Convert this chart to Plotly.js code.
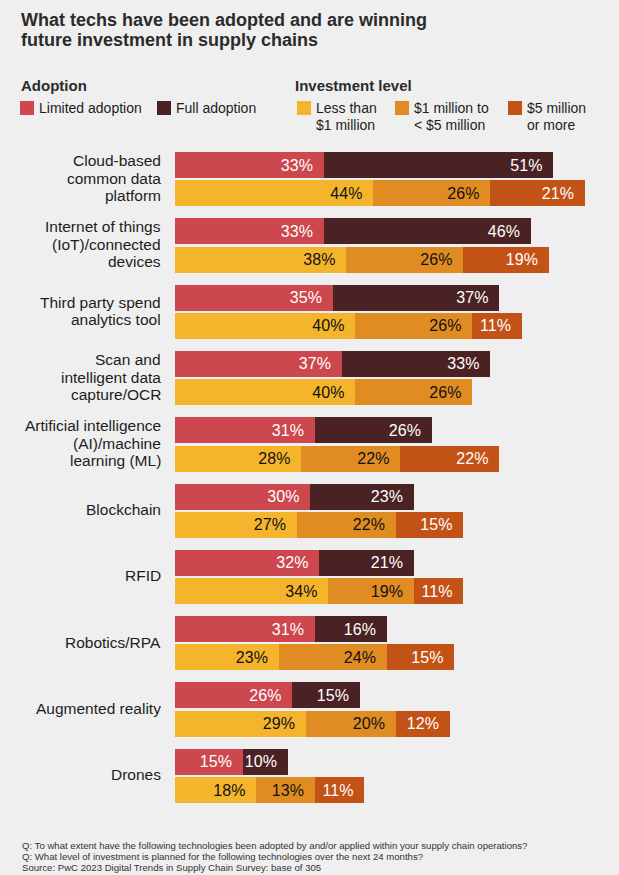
<!DOCTYPE html>
<html>
<head>
<meta charset="utf-8">
<script src="https://cdn.plot.ly/plotly-3.0.1.min.js"></script>
<style>
  html, body { margin: 0; padding: 0; background: #efefef; }
  #chart { width: 619px; height: 875px; }
</style>
</head>
<body>
<div id="chart"></div>
<script>
// values
const categories = [
  "Cloud-based<br>common data<br>platform",
  "Internet of things<br>(IoT)/connected<br>devices",
  "Third party spend<br>analytics tool",
  "Scan and<br>intelligent data<br>capture/OCR",
  "Artificial intelligence<br>(AI)/machine<br>learning (ML)",
  "Blockchain",
  "RFID",
  "Robotics/RPA",
  "Augmented reality",
  "Drones",
];
const limitedAdoption = [33, 33, 35, 37, 31, 30, 32, 31, 26, 15];
const fullAdoption = [51, 46, 37, 33, 26, 23, 21, 16, 15, 10];
const lessThan1m = [44, 38, 40, 40, 28, 27, 34, 23, 29, 18];
const from1mTo5m = [26, 26, 26, 26, 22, 22, 19, 24, 20, 13];
const over5m = [21, 19, 11, null, 22, 15, 11, 15, 12, 11];

const adoptionNames = ["Limited adoption", "Full adoption"];
const investmentNames = ["Less than<br>$1 million", "$1 million to<br>&lt; $5 million", "$5 million<br>or more"];

const titleLines = [
  "What techs have been adopted and are winning",
  "future investment in supply chains",
];
const footerLines = [
  "Q: To what extent have the following technologies been adopted by and/or applied within your supply chain operations?",
  "Q: What level of investment is planned for the following technologies over the next 24 months?",
  "Source: PwC 2023 Digital Trends in Supply Chain Survey: base of 305",
];

const colors = {
  limited: "#cd474e",
  full: "#4a2224",
  less: "#f4b52c",
  mid: "#e08c23",
  more: "#c35217",
};

const FONT = "Liberation Sans, Arial, sans-serif";
const W = 619, H = 875;
const M = { l: 175, r: 19, t: 152, b: 72 };
const plotW = W - M.l - M.r;
const plotH = H - M.t - M.b;
const PX_PER_PCT = 4.5;

// y axis is in pixels from the top of the plot area
const GROUP_STEP = 66.3;
const BAR_H = 26;
const adoptionY = categories.map((_, i) => BAR_H / 2 + i * GROUP_STEP);
const investY = categories.map((_, i) => BAR_H / 2 + 28.3 + i * GROUP_STEP);
const groupMid = categories.map((_, i) => (adoptionY[i] + investY[i]) / 2);

const pad = "\u00a0\u2009";

function barTrace(name, x, y, color, textColor) {
  return {
    type: "bar",
    orientation: "h",
    name: name,
    x: x,
    y: y,
    width: BAR_H,
    marker: { color: color, line: { width: 0 } },
    texttemplate: "%{x}%" + pad,
    textposition: "inside",
    insidetextanchor: "end",
    textangle: 0,
    constraintext: "none",
    textfont: { family: FONT, size: 16, color: textColor },
    hoverinfo: "skip",
    showlegend: false,
  };
}

const traces = [
  barTrace("Limited adoption", limitedAdoption, adoptionY, colors.limited, "#ffffff"),
  barTrace("Full adoption", fullAdoption, adoptionY, colors.full, "#ffffff"),
  barTrace("Less than $1 million", lessThan1m, investY, colors.less, "#111111"),
  barTrace("$1 million to < $5 million", from1mTo5m, investY, colors.mid, "#111111"),
  barTrace("$5 million or more", over5m, investY, colors.more, "#ffffff"),
];

// pixel -> paper helpers for the text around the plot
const px = x => (x - M.l) / plotW;
const py = y => 1 - (y - M.t) / plotH;

function textAt(text, x, yCenter, size, opts = {}) {
  return Object.assign({
    text: text,
    xref: "paper",
    yref: "paper",
    x: px(x),
    y: py(yCenter),
    xanchor: "left",
    yanchor: "middle",
    showarrow: false,
    borderpad: 0,
    font: { family: FONT, size: size, color: "#1d1d1d" },
  }, opts);
}

const annotations = [];
const shapes = [];

// title
titleLines.forEach((line, j) => {
  annotations.push(textAt("<b>" + line + "</b>", 20, 19.5 + j * 20, 18, {
    font: { family: FONT, size: 18, color: "#2b2b2b" },
  }));
});

// legend headers
annotations.push(textAt("<b>Adoption</b>", 20, 85.5, 15, { font: { family: FONT, size: 15, color: "#2b2b2b" } }));
annotations.push(textAt("<b>Investment level</b>", 294, 85.5, 15, { font: { family: FONT, size: 15, color: "#2b2b2b" } }));

function legendItem(name, color, x0) {
  shapes.push({
    type: "rect", xref: "paper", yref: "paper",
    x0: px(x0), x1: px(x0 + 14), y0: py(115), y1: py(101),
    fillcolor: color, line: { width: 0 },
  });
  name.split("<br>").forEach((line, j) => {
    annotations.push(textAt(line, x0 + 18, 108.5 + j * 16.3, 14));
  });
}
const adoptionColors = [colors.limited, colors.full];
const investColors = [colors.less, colors.mid, colors.more];
const adoptionSwatchX = [20, 157];
const investSwatchX = [297, 395, 508];
adoptionNames.forEach((n, k) => legendItem(n, adoptionColors[k], adoptionSwatchX[k]));
investmentNames.forEach((n, k) => legendItem(n, investColors[k], investSwatchX[k]));

// category labels, one annotation per line for tight line spacing
const LABEL_LINE = 17.5;
categories.forEach((cat, i) => {
  const lines = cat.split("<br>");
  lines.forEach((line, j) => {
    annotations.push({
      text: line,
      xref: "paper",
      yref: "y",
      x: px(162),
      y: groupMid[i],
      yshift: -(j - (lines.length - 1) / 2) * LABEL_LINE + 1,
      xanchor: "right",
      yanchor: "middle",
      showarrow: false,
      borderpad: 0,
      font: { family: FONT, size: 15.5, color: "#1d1d1d" },
    });
  });
});

// footer
footerLines.forEach((line, j) => {
  annotations.push(textAt(line, 21, 845.5 + j * 11, 9.6, {
    font: { family: FONT, size: 9.6, color: "#333333" },
  }));
});

const layout = {
  width: W,
  height: H,
  margin: M,
  paper_bgcolor: "#efefef",
  plot_bgcolor: "#efefef",
  barmode: "stack",
  showlegend: false,
  xaxis: {
    range: [0, plotW / PX_PER_PCT],
    visible: false,
    fixedrange: true,
  },
  yaxis: {
    range: [plotH, 0],
    visible: false,
    fixedrange: true,
  },
  annotations: annotations,
  shapes: shapes,
};

Plotly.newPlot("chart", traces, layout, { displayModeBar: false, responsive: false });
</script>
</body>
</html>
